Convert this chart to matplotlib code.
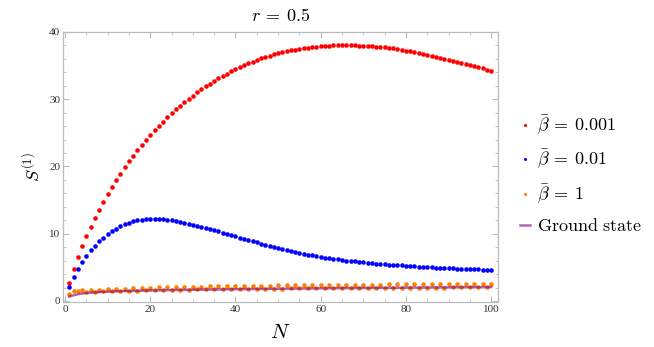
import matplotlib
matplotlib.use("Agg")
import matplotlib.pyplot as plt
from matplotlib.ticker import MultipleLocator
from matplotlib.lines import Line2D

plt.rcParams['mathtext.fontset'] = 'cm'

N = list(range(1, 101))

red_001 = [2.63, 4.75, 6.54, 8.13, 9.62, 11.05, 12.34, 13.58, 14.77, 15.87,
           16.91, 17.95, 18.89, 19.88, 20.77, 21.61, 22.45, 23.20, 23.94, 24.68,
           25.38, 26.02, 26.66, 27.31, 27.90, 28.50, 29.04, 29.59, 30.08, 30.53,
           31.03, 31.48, 31.92, 32.31, 32.71, 33.11, 33.46, 33.80, 34.15, 34.45,
           34.75, 35.05, 35.34, 35.59, 35.84, 36.07, 36.28, 36.48, 36.66, 36.83,
           36.98, 37.13, 37.25, 37.37, 37.47, 37.57, 37.67, 37.75, 37.82, 37.88,
           37.93, 37.97, 38.00, 38.02, 38.03, 38.03, 38.02, 38.00, 37.97, 37.95,
           37.91, 37.87, 37.82, 37.77, 37.71, 37.63, 37.56, 37.47, 37.36, 37.24,
           37.12, 36.99, 36.87, 36.73, 36.61, 36.47, 36.32, 36.17, 36.02, 35.87,
           35.72, 35.57, 35.42, 35.27, 35.11, 34.93, 34.77, 34.58, 34.40, 34.15]

blue_01 = [2.03, 3.57, 4.76, 5.85, 6.69, 7.53, 8.23, 8.87, 9.42, 9.91,
           10.36, 10.76, 11.10, 11.40, 11.65, 11.85, 12.00, 12.09, 12.14, 12.19,
           12.20, 12.19, 12.14, 12.09, 12.00, 11.90, 11.77, 11.64, 11.50, 11.35,
           11.20, 11.04, 10.87, 10.70, 10.52, 10.34, 10.16, 9.98, 9.80, 9.60,
           9.42, 9.24, 9.06, 8.88, 8.70, 8.53, 8.36, 8.19, 8.03, 7.87,
           7.71, 7.56, 7.42, 7.28, 7.15, 7.02, 6.90, 6.78, 6.67, 6.56,
           6.46, 6.36, 6.27, 6.18, 6.10, 6.02, 5.95, 5.88, 5.81, 5.75,
           5.69, 5.63, 5.57, 5.52, 5.47, 5.42, 5.37, 5.32, 5.28, 5.24,
           5.20, 5.16, 5.12, 5.08, 5.05, 5.01, 4.98, 4.95, 4.92, 4.89,
           4.86, 4.83, 4.80, 4.78, 4.75, 4.73, 4.70, 4.68, 4.66, 4.63]

orange_1 = [0.99, 1.44, 1.52, 1.60, 1.29, 1.62, 1.34, 1.68, 1.42, 1.74,
            1.46, 1.80, 1.50, 1.85, 1.53, 1.90, 1.56, 1.94, 1.59, 1.98,
            1.62, 2.01, 1.64, 2.04, 1.66, 2.07, 1.68, 2.10, 1.70, 2.12,
            1.72, 2.15, 1.73, 2.17, 1.75, 2.19, 1.76, 2.21, 1.78, 2.23,
            1.79, 2.25, 1.80, 2.27, 1.82, 2.28, 1.83, 2.30, 1.84, 2.31,
            1.85, 2.33, 1.86, 2.34, 1.87, 2.35, 1.88, 2.37, 1.89, 2.38,
            1.90, 2.39, 1.91, 2.40, 1.92, 2.41, 1.93, 2.42, 1.93, 2.43,
            1.94, 2.44, 1.95, 2.45, 1.96, 2.46, 1.96, 2.46, 1.97, 2.47,
            1.98, 2.48, 1.98, 2.49, 1.99, 2.49, 2.00, 2.50, 2.00, 2.51,
            2.01, 2.51, 2.01, 2.52, 2.02, 2.53, 2.02, 2.53, 2.03, 2.54]

ground_N = [1, 2, 3, 4, 5, 6, 7, 8, 10, 12, 15, 20, 25, 30, 40, 50, 60, 70, 80, 90, 100]
ground = [0.65, 0.85, 1.00, 1.10, 1.18, 1.24, 1.28, 1.32, 1.38, 1.43, 1.48, 1.56,
          1.62, 1.67, 1.75, 1.82, 1.88, 1.93, 1.98, 2.02, 2.06]

labels = [r'$\bar{\beta}\:=\:0.001$', r'$\bar{\beta}\:=\:0.01$', r'$\bar{\beta}\:=\:1$',
          r'$\mathrm{Ground\ state}$']
colors = ['#ff0000', '#0000ff', '#ff8000', '#800080']

fig = plt.figure(figsize=(6.54, 3.47), dpi=100)
ax = fig.add_axes([63/654, 1-302/347, (498-63)/654, (302-32)/347])

ms = 3.3
ax.plot(N, red_001, 'o', color=colors[0], ms=ms, mew=0, zorder=3)
ax.plot(N, blue_01, 'o', color=colors[1], ms=ms, mew=0, zorder=3)
ax.plot(N, orange_1, 'o', color=colors[2], ms=ms, mew=0, zorder=3)
ax.plot(ground_N, ground, '-', color=colors[3], lw=1.8, alpha=0.6, zorder=4)

ax.set_xlim(-0.47, 101.6)
ax.set_ylim(-0.15, 40.0)
ax.xaxis.set_major_locator(MultipleLocator(20))
ax.xaxis.set_minor_locator(MultipleLocator(5))
ax.yaxis.set_major_locator(MultipleLocator(10))
ax.yaxis.set_minor_locator(MultipleLocator(2))

gray = '#bbbbbb'
for s in ax.spines.values():
    s.set_color(gray)
    s.set_linewidth(0.9)
ax.tick_params(which='both', direction='in', top=True, right=True, color=gray,
               labelcolor='#333333', labelsize=8, pad=2)
ax.tick_params(which='major', length=4, width=0.8)
ax.tick_params(which='minor', length=2.2, width=0.6)
for lab in ax.get_xticklabels() + ax.get_yticklabels():
    lab.set_family('Liberation Serif')

ax.set_title(r'$r\:=\:0.5$', fontsize=13, pad=8)
ax.set_xlabel(r'$N$', fontsize=15, labelpad=6)
ax.set_ylabel(r'$S^{(1)}$', fontsize=13, labelpad=4)

handles = [Line2D([], [], ls='none', marker='o', ms=2.2, mew=0, color=colors[0]),
           Line2D([], [], ls='none', marker='o', ms=2.2, mew=0, color=colors[1]),
           Line2D([], [], ls='none', marker='o', ms=2.2, mew=0, color=colors[2]),
           Line2D([], [], color=colors[3], lw=1.8, alpha=0.6)]
leg = fig.legend(handles, labels, loc='upper left', bbox_to_anchor=(504/654, 1-97/347),
                 frameon=False, handlelength=0.55, handletextpad=0.4,
                 labelspacing=0.62, prop={'size': 13})

fig.savefig('out.png', dpi=100)
